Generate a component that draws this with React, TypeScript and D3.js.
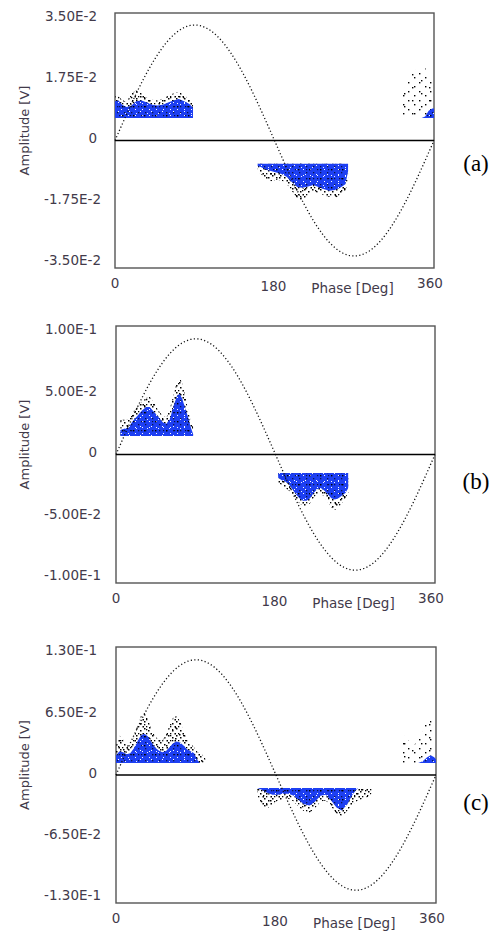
import React from "react";
import * as d3 from "d3";

// Canvas
const W = 497;
const H = 931;

// ---- Axis data -------------------------------------------------------
const amplitudeLimits = [0.035, 0.1, 0.13];
const tickValuesA = [0.035, 0.0175, 0, -0.0175, -0.035];
const tickValuesB = [0.1, 0.05, 0, -0.05, -0.1];
const tickValuesC = [0.13, 0.065, 0, -0.065, -0.13];
const tickLabelsA = ["3.50E-2", "1.75E-2", "0", "-1.75E-2", "-3.50E-2"];
const tickLabelsB = ["1.00E-1", "5.00E-2", "0", "-5.00E-2", "-1.00E-1"];
const tickLabelsC = ["1.30E-1", "6.50E-2", "0", "-6.50E-2", "-1.30E-1"];
const phaseTicks = [0, 180, 360];
const panelLetters = ["(a)", "(b)", "(c)"];

// Peak of the applied test voltage trace, in volts on each panel's scale
const sineAmplitudes = [0.0317, 0.09, 0.117];

// ---- Discharge clusters (phase in degrees, amplitude in volts) ---------
// blue = extent of the dense pulse cloud, dots = extent of scattered pulses

// Panel (a)
const phaseA1 = [0, 4, 8, 13, 18, 24, 30, 36, 42, 48, 54, 60, 66, 72, 78, 84, 88];
const blueA1 = [0.0108, 0.011, 0.0098, 0.0092, 0.0095, 0.0108, 0.011, 0.0104, 0.0098, 0.0096, 0.0098, 0.0104, 0.011, 0.0114, 0.0108, 0.01, 0.009];
const dotsA1 = [0.0122, 0.012, 0.0112, 0.0105, 0.0128, 0.0138, 0.013, 0.0118, 0.0112, 0.011, 0.0115, 0.0122, 0.013, 0.0134, 0.0125, 0.0112, 0.01];

const phaseA2 = [161, 166, 170, 176, 182, 188, 194, 200, 206, 212, 218, 224, 230, 236, 242, 248, 254, 260, 263];
const blueA2 = [-0.007, -0.0074, -0.008, -0.0084, -0.0088, -0.0092, -0.01, -0.0115, -0.0128, -0.013, -0.0126, -0.0122, -0.0128, -0.0134, -0.0138, -0.0136, -0.013, -0.012, -0.0085];
const dotsA2 = [-0.0085, -0.0095, -0.0105, -0.0112, -0.0108, -0.011, -0.012, -0.014, -0.016, -0.0165, -0.015, -0.014, -0.0145, -0.015, -0.0155, -0.0158, -0.015, -0.014, -0.011];

const phaseA3 = [322, 328, 334, 340, 346, 350, 354, 358, 360];
const blueA3 = [0.0062, 0.0062, 0.0062, 0.0062, 0.0062, 0.0066, 0.0082, 0.0088, 0.0088];
const dotsA3 = [0.011, 0.015, 0.0185, 0.0195, 0.019, 0.02, 0.0175, 0.016, 0.014];

// Panel (b)
const phaseB1 = [5, 9, 14, 19, 24, 29, 34, 38, 43, 48, 53, 57, 61, 65, 69, 72, 75, 78, 81, 84, 87];
const blueB1 = [0.019, 0.02, 0.021, 0.026, 0.03, 0.034, 0.037, 0.037, 0.033, 0.029, 0.025, 0.024, 0.028, 0.038, 0.046, 0.047, 0.043, 0.036, 0.03, 0.022, 0.016];
const dotsB1 = [0.027, 0.027, 0.027, 0.033, 0.037, 0.041, 0.044, 0.045, 0.04, 0.034, 0.03, 0.029, 0.036, 0.047, 0.057, 0.06, 0.055, 0.046, 0.036, 0.027, 0.021];

const phaseB2 = [183, 187, 191, 195, 199, 203, 207, 211, 215, 219, 223, 227, 231, 235, 239, 243, 247, 251, 255, 259, 262];
const blueB2 = [-0.018, -0.02, -0.021, -0.023, -0.027, -0.031, -0.034, -0.036, -0.036, -0.034, -0.03, -0.027, -0.026, -0.028, -0.031, -0.034, -0.035, -0.034, -0.032, -0.03, -0.026];
const dotsB2 = [-0.022, -0.024, -0.026, -0.028, -0.031, -0.035, -0.038, -0.04, -0.04, -0.038, -0.034, -0.031, -0.03, -0.033, -0.037, -0.041, -0.043, -0.042, -0.038, -0.034, -0.03];

// Panel (c)
const phaseC1 = [0, 4, 8, 12, 16, 20, 24, 28, 32, 36, 40, 44, 48, 52, 56, 60, 64, 68, 72, 76, 80, 84, 88, 91, 94, 98, 101];
const blueC1 = [0.02, 0.024, 0.023, 0.021, 0.022, 0.027, 0.034, 0.04, 0.042, 0.039, 0.033, 0.028, 0.025, 0.023, 0.024, 0.028, 0.032, 0.034, 0.033, 0.03, 0.026, 0.024, 0.022, 0.016, 0.0122, 0.0122, 0.0122];
const dotsC1 = [0.03, 0.04, 0.036, 0.03, 0.03, 0.038, 0.05, 0.06, 0.063, 0.058, 0.046, 0.039, 0.036, 0.035, 0.04, 0.05, 0.058, 0.06, 0.055, 0.045, 0.036, 0.032, 0.028, 0.024, 0.022, 0.02, 0.016];

const phaseC2 = [159, 164, 170, 176, 182, 188, 194, 200, 206, 212, 218, 224, 230, 236, 242, 248, 254, 260, 266, 272, 278, 284, 288];
const blueC2 = [-0.0132, -0.015, -0.018, -0.02, -0.02, -0.019, -0.019, -0.021, -0.026, -0.03, -0.031, -0.027, -0.021, -0.02, -0.026, -0.033, -0.036, -0.03, -0.02, -0.0132, -0.0132, -0.0132, -0.0132];
const dotsC2 = [-0.022, -0.03, -0.034, -0.03, -0.026, -0.025, -0.024, -0.027, -0.033, -0.037, -0.038, -0.034, -0.027, -0.026, -0.032, -0.039, -0.042, -0.037, -0.03, -0.026, -0.024, -0.022, -0.018];

const phaseC3 = [320, 325, 330, 335, 340, 345, 350, 354, 358, 360];
const blueC3 = [0.0122, 0.0122, 0.0122, 0.0122, 0.0122, 0.014, 0.018, 0.02, 0.018, 0.016];
const dotsC3 = [0.026, 0.04, 0.034, 0.03, 0.036, 0.044, 0.058, 0.06, 0.04, 0.03];

type Cluster = { phase: number[]; blue: number[]; dots: number[]; base: number; sparse?: boolean };

const clustersA: Cluster[] = [
  { phase: phaseA1, blue: blueA1, dots: dotsA1, base: 0.0062 },
  { phase: phaseA2, blue: blueA2, dots: dotsA2, base: -0.0064 },
  { phase: phaseA3, blue: blueA3, dots: dotsA3, base: 0.0062, sparse: true },
];
const clustersB: Cluster[] = [
  { phase: phaseB1, blue: blueB1, dots: dotsB1, base: 0.0144 },
  { phase: phaseB2, blue: blueB2, dots: dotsB2, base: -0.0144 },
];
const clustersC: Cluster[] = [
  { phase: phaseC1, blue: blueC1, dots: dotsC1, base: 0.0122 },
  { phase: phaseC2, blue: blueC2, dots: dotsC2, base: -0.0132 },
  { phase: phaseC3, blue: blueC3, dots: dotsC3, base: 0.0122, sparse: true },
];

// ---- Layout ------------------------------------------------------------
const panelFrames = [
  { left: 115, right: 434, top: 13, bottom: 268, letterDy: 22 },
  { left: 116, right: 435, top: 326, bottom: 583, letterDy: 26 },
  { left: 116, right: 436, top: 647, bottom: 903, letterDy: 27 },
];

const tickSets = [
  { values: tickValuesA, labels: tickLabelsA, clusters: clustersA },
  { values: tickValuesB, labels: tickLabelsB, clusters: clustersB },
  { values: tickValuesC, labels: tickLabelsC, clusters: clustersC },
];

const FONT = "'DejaVu Sans', Verdana, sans-serif";
const TEXT_COLOR = "#423a4a";
const BLUE = "#1d3ff2";

function Panel({ index }: { index: number }) {
  const f = panelFrames[index];
  const ymax = amplitudeLimits[index];
  const { values, labels, clusters } = tickSets[index];

  const x = d3.scaleLinear().domain([0, 360]).range([f.left, f.right]);
  const y = d3.scaleLinear().domain([-ymax, ymax]).range([f.bottom, f.top]);
  const labelY = d3.scaleLinear().domain([-ymax, ymax]).range([f.bottom - 7.5, f.top + 3.5]);

  const amp = sineAmplitudes[index];
  const sine = d3
    .line<number>()
    .x((p) => x(p))
    .y((p) => y(amp * Math.sin((p * Math.PI) / 180)))(d3.range(0, 361, 1));

  const areaFor = (c: Cluster, vals: number[]) =>
    d3
      .area<number>()
      .x((_, i) => x(c.phase[i]))
      .y0(y(c.base))
      .y1((v) => y(v))
      .curve(d3.curveLinear)(vals) || "";

  const midY = (f.top + f.bottom) / 2;

  return (
    <g>
      {/* plot frame */}
      <rect
        x={f.left}
        y={f.top}
        width={f.right - f.left}
        height={f.bottom - f.top}
        fill="#fff"
        stroke="#555"
        strokeWidth={1.4}
      />

      {/* pulse clusters */}
      {clusters.map((c, i) => {
        const dotsPath = areaFor(c, c.dots);
        const bluePath = areaFor(c, c.blue);
        return (
          <g key={i}>
            {c.sparse ? (
              <>
                <path d={dotsPath} fill="url(#speckSparse)" />
                <path d={dotsPath} fill="url(#speckSparse2)" />
              </>
            ) : (
              <>
                <path d={dotsPath} fill="url(#speck)" />
                <path d={dotsPath} fill="url(#speck2)" />
              </>
            )}
            <path d={bluePath} fill={BLUE} />
            <path d={bluePath} fill="url(#blueSpeck)" />
            <path d={bluePath} fill="url(#blueSpeck2)" />
          </g>
        );
      })}

      {/* applied voltage trace */}
      <path d={sine || ""} fill="none" stroke="#111" strokeWidth={1.3} strokeDasharray="1.2 2.3" />

      {/* zero line */}
      <line x1={f.left} x2={f.right} y1={y(0)} y2={y(0)} stroke="#000" strokeWidth={1.6} />

      {/* amplitude tick labels */}
      {values.map((v, i) => (
        <text
          key={i}
          x={v < 0 ? 101 : 97}
          y={labelY(v)}
          dy="0.36em"
          textAnchor="end"
          fontFamily={FONT}
          fontSize={13.5}
          fill={TEXT_COLOR}
        >
          {labels[i]}
        </text>
      ))}

      {/* phase tick labels */}
      {phaseTicks.map((p) => (
        <text
          key={p}
          x={p === 360 ? x(p) - 4 : p === 180 ? x(p) - 1 : x(p)}
          y={p === 180 ? f.bottom + 18.5 : f.bottom + 15}
          dy="0.36em"
          textAnchor="middle"
          fontFamily={FONT}
          fontSize={13.5}
          fill={TEXT_COLOR}
        >
          {p}
        </text>
      ))}
      <text
        x={x(268)}
        y={f.bottom + 20.5}
        dy="0.36em"
        textAnchor="middle"
        fontFamily={FONT}
        fontSize={13.5}
        fill={TEXT_COLOR}
      >
        Phase [Deg]
      </text>

      {/* axis title */}
      <text
        transform={`translate(24,${midY - 10}) rotate(-90)`}
        dy="0.36em"
        textAnchor="middle"
        fontFamily={FONT}
        fontSize={13}
        fill={TEXT_COLOR}
      >
        Amplitude [V]
      </text>

      {/* panel letter */}
      <text
        x={476}
        y={midY + f.letterDy}
        dy="0.35em"
        textAnchor="middle"
        fontFamily="'Liberation Serif', 'Times New Roman', serif"
        fontSize={23}
        fill="#000"
      >
        {panelLetters[index]}
      </text>
    </g>
  );
}

export default function App() {
  return (
    <svg
      width={W}
      height={H}
      viewBox={`0 0 ${W} ${H}`}
      style={{ position: "absolute", left: 0, top: 0, background: "#fff" }}
    >
      <defs>
        <pattern id="speck" width="8" height="7" patternUnits="userSpaceOnUse">
          <rect x="0" y="0" width="1.5" height="1.5" fill="#000" />
          <rect x="4" y="2" width="1.5" height="1.5" fill="#000" />
          <rect x="6.5" y="5" width="1.5" height="1.5" fill="#000" />
          <rect x="2" y="5" width="1.3" height="1.3" fill="#000" />
        </pattern>
        <pattern id="speck2" width="13" height="11" patternUnits="userSpaceOnUse">
          <rect x="6" y="1" width="1.5" height="1.5" fill="#000" />
          <rect x="10" y="8" width="1.5" height="1.5" fill="#000" />
          <rect x="1" y="9" width="1.3" height="1.3" fill="#000" />
          <rect x="3" y="3" width="1.3" height="1.3" fill="#000" />
        </pattern>
        <pattern id="speckSparse" width="11" height="9" patternUnits="userSpaceOnUse">
          <rect x="1" y="1" width="1.4" height="1.4" fill="#000" />
          <rect x="7" y="5" width="1.4" height="1.4" fill="#000" />
        </pattern>
        <pattern id="speckSparse2" width="17" height="13" patternUnits="userSpaceOnUse">
          <rect x="4" y="9" width="1.4" height="1.4" fill="#000" />
          <rect x="13" y="2" width="1.4" height="1.4" fill="#000" />
        </pattern>
        <pattern id="blueSpeck" width="7" height="6" patternUnits="userSpaceOnUse">
          <rect x="2" y="1" width="1" height="1" fill="#fff" />
          <rect x="5" y="4" width="1.3" height="1.3" fill="#0a1450" />
        </pattern>
        <pattern id="blueSpeck2" width="11" height="9" patternUnits="userSpaceOnUse">
          <rect x="8" y="3" width="1" height="1" fill="#fff" />
          <rect x="1" y="7" width="1.4" height="1.4" fill="#000" />
          <rect x="4" y="5" width="1" height="1" fill="#e8ecff" />
          <rect x="9" y="7" width="1.2" height="1.2" fill="#06104a" />
        </pattern>
      </defs>
      {panelFrames.map((_, i) => (
        <Panel key={i} index={i} />
      ))}
    </svg>
  );
}
